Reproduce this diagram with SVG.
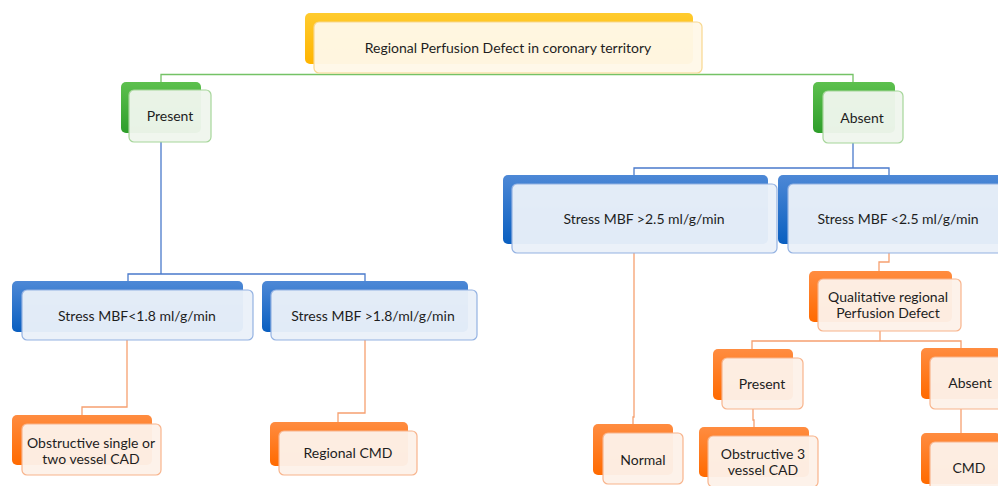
<svg xmlns="http://www.w3.org/2000/svg" width="998" height="486" viewBox="0 0 998 486">
<defs>
<linearGradient id="gY" x1="0" y1="0" x2="0" y2="1"><stop offset="0" stop-color="#FFCB2E"/><stop offset="1" stop-color="#FFB400"/></linearGradient>
<linearGradient id="gG" x1="0" y1="0" x2="0" y2="1"><stop offset="0" stop-color="#5DC04E"/><stop offset="1" stop-color="#2E9E2A"/></linearGradient>
<linearGradient id="gB" x1="0" y1="0" x2="0" y2="1"><stop offset="0" stop-color="#4D88D6"/><stop offset="1" stop-color="#0A5FC0"/></linearGradient>
<linearGradient id="gO" x1="0" y1="0" x2="0" y2="1"><stop offset="0" stop-color="#FF8C40"/><stop offset="1" stop-color="#FF6A00"/></linearGradient>
<style>
.t{font-family:"Lato","Open Sans","Liberation Sans",sans-serif;font-size:14px;fill:#1E1E1E;text-anchor:middle;dominant-baseline:central}
.bY{fill:url(#gY)}.bG{fill:url(#gG)}.bB{fill:url(#gB)}.bO{fill:url(#gO)}
.fY{fill:#FFF8E8;fill-opacity:0.96;stroke:#F8D890;stroke-width:1.2}
.fG{fill:#EFF6ED;fill-opacity:0.96;stroke:#A6D69A;stroke-width:1.2}
.fB{fill:#EAF0F9;fill-opacity:0.96;stroke:#94B2E2;stroke-width:1.2}
.fO{fill:#FDF1E9;fill-opacity:0.96;stroke:#F8B48C;stroke-width:1.2}
.cg{fill:none;stroke:#74C266;stroke-width:1.3}
.cb{fill:none;stroke:#4A7ACB;stroke-width:1.3}
.co{fill:none;stroke:#F6A070;stroke-width:1.3}
</style>
</defs>
<rect width="998" height="486" fill="#FFFFFF"/>
<g id="connectors">
<path class="cg" d="M498 74.5H161V83M498 74.5H853V83"/>
<path class="cb" d="M161 142V274M128 281V274H365V281"/>
<path class="cb" d="M853 143V168M634 175V168H889V175"/>
<path class="co" d="M127 340V407H82V415"/>
<path class="co" d="M365 340V413H338V422"/>
<path class="co" d="M634 253V417H633V424"/>
<path class="co" d="M889 253V262H879V271"/>
<path class="co" d="M880 331V341M752 349V341H961V348"/>
<path class="co" d="M753 409V420H754V427"/>
<path class="co" d="M961 409V433"/>
</g>
<g id="n-top"><rect class="bY" x="305" y="13" width="388" height="51" rx="5"/><rect class="fY" x="314" y="22" width="388" height="51" rx="5"/><text class="t" x="508" y="47">Regional Perfusion Defect in coronary territory</text></g>
<g id="n-present"><rect class="bG" x="121" y="82" width="80" height="51" rx="5"/><rect class="fG" x="129" y="90" width="82" height="52" rx="5"/><text class="t" x="170" y="115">Present</text></g>
<g id="n-absent"><rect class="bG" x="813" y="82" width="82" height="51" rx="5"/><rect class="fG" x="823" y="91" width="80" height="52" rx="5"/><text class="t" x="862" y="117">Absent</text></g>
<g id="n-lt18"><rect class="bB" x="12" y="281" width="231" height="51" rx="5"/><rect class="fB" x="22" y="290" width="231" height="50" rx="5"/><text class="t" x="137" y="315">Stress MBF&lt;1.8 ml/g/min</text></g>
<g id="n-gt18"><rect class="bB" x="262" y="281" width="206" height="51" rx="5"/><rect class="fB" x="271" y="290" width="206" height="50" rx="5"/><text class="t" x="373" y="315">Stress MBF &gt;1.8/ml/g/min</text></g>
<g id="n-gt25"><rect class="bB" x="503" y="175" width="265" height="69" rx="5"/><rect class="fB" x="512" y="184" width="265" height="69" rx="5"/><text class="t" x="644" y="218">Stress MBF &gt;2.5 ml/g/min</text></g>
<g id="n-lt25"><rect class="bB" x="778" y="175" width="265" height="69" rx="5"/><rect class="fB" x="788" y="184" width="265" height="69" rx="5"/><text class="t" x="898" y="218">Stress MBF &lt;2.5 ml/g/min</text></g>
<g id="n-osv"><rect class="bO" x="12" y="415" width="140" height="50" rx="5"/><rect class="fO" x="22" y="424" width="139" height="51" rx="5"/><text class="t" x="91" y="442">Obstructive single or</text><text class="t" x="91" y="458">two vessel CAD</text></g>
<g id="n-rcmd"><rect class="bO" x="270" y="422" width="138" height="44" rx="5"/><rect class="fO" x="279" y="431" width="138" height="44" rx="5"/><text class="t" x="348" y="452">Regional CMD</text></g>
<g id="n-normal"><rect class="bO" x="593" y="424" width="80" height="51" rx="5"/><rect class="fO" x="603" y="433" width="80" height="51" rx="5"/><text class="t" x="643" y="459">Normal</text></g>
<g id="n-qual"><rect class="bO" x="809" y="271" width="143" height="51" rx="5"/><rect class="fO" x="818" y="279" width="143" height="52" rx="5"/><text class="t" x="888" y="296">Qualitative regional</text><text class="t" x="888" y="312">Perfusion  Defect</text></g>
<g id="n-present2"><rect class="bO" x="713" y="349" width="80" height="51" rx="5"/><rect class="fO" x="722" y="358" width="81" height="51" rx="5"/><text class="t" x="762" y="383">Present</text></g>
<g id="n-o3"><rect class="bO" x="699" y="427" width="110" height="50" rx="5"/><rect class="fO" x="708" y="436" width="110" height="51" rx="5"/><text class="t" x="763" y="453">Obstructive 3</text><text class="t" x="763" y="469">vessel CAD</text></g>
<g id="n-absent2"><rect class="bO" x="921" y="348" width="80" height="51" rx="5"/><rect class="fO" x="930" y="357" width="80" height="52" rx="5"/><text class="t" x="970" y="382">Absent</text></g>
<g id="n-cmd"><rect class="bO" x="921" y="433" width="80" height="51" rx="5"/><rect class="fO" x="930" y="442" width="80" height="52" rx="5"/><text class="t" x="969" y="467">CMD</text></g>
</svg>
